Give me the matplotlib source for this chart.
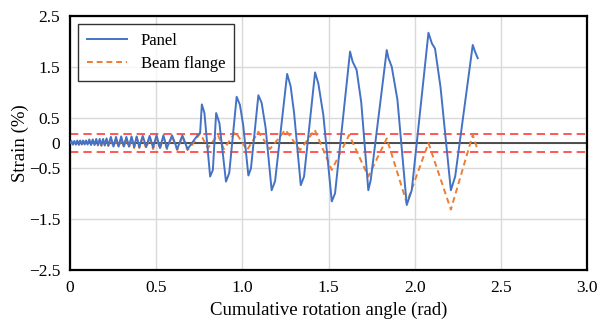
import numpy as np
import matplotlib.pyplot as plt

plt.rcParams['font.family'] = ['Liberation Serif', 'DejaVu Serif']

# small elastic cycles (shared x for both gauges)
x_small = [0, 0.008, 0.017, 0.025, 0.034, 0.042, 0.051, 0.059, 0.068, 0.076, 0.085, 0.093, 0.102,
           0.112, 0.122, 0.132, 0.142, 0.152, 0.162, 0.172, 0.182, 0.192, 0.202, 0.212, 0.222,
           0.237, 0.252, 0.267, 0.282, 0.297, 0.312, 0.327, 0.342, 0.357, 0.372, 0.387, 0.402,
           0.422, 0.442, 0.462, 0.482, 0.502, 0.522, 0.542, 0.562,
           0.592, 0.622, 0.652, 0.682, 0.712, 0.740]
panel_small = [0, 0.04, -0.03, 0.04, -0.03, 0.05, -0.03, 0.05, -0.03, 0.05, -0.03, 0.05, -0.03,
               0.07, -0.04, 0.07, -0.04, 0.08, -0.04, 0.08, -0.04, 0.08, -0.05, 0.09, -0.05,
               0.12, -0.07, 0.12, -0.07, 0.13, -0.07, 0.12, -0.07, 0.13, -0.08, 0.13, -0.08,
               0.14, -0.08, 0.14, -0.09, 0.15, -0.10, 0.15, -0.10,
               0.15, -0.12, 0.15, -0.12, 0.02, 0.15]
flange_small = [0, 0.03, -0.03, 0.03, -0.03, 0.04, -0.04, 0.04, -0.04, 0.04, -0.04, 0.04, -0.04,
                0.05, -0.05, 0.05, -0.05, 0.06, -0.05, 0.06, -0.06, 0.06, -0.06, 0.07, -0.06,
                0.09, -0.08, 0.09, -0.09, 0.10, -0.09, 0.10, -0.10, 0.10, -0.10, 0.11, -0.10,
                0.11, -0.11, 0.12, -0.12, 0.12, -0.12, 0.12, -0.12,
                0.13, -0.14, 0.13, -0.14, -0.02, 0.12]

# large cycles
x_panel = [0.755, 0.765, 0.78, 0.813, 0.829, 0.848, 0.867, 0.905, 0.924, 0.967, 0.986, 1.005,
           1.035, 1.05, 1.093, 1.112, 1.135, 1.17, 1.19, 1.26, 1.28, 1.30, 1.339, 1.358,
           1.422, 1.441, 1.47, 1.519, 1.538, 1.625, 1.64, 1.663, 1.69, 1.731, 1.745,
           1.838, 1.848, 1.867, 1.90, 1.954, 1.983, 2.08, 2.10, 2.118, 2.15, 2.21, 2.235,
           2.337, 2.35, 2.366]
panel = [0.20, 0.76, 0.59, -0.66, -0.53, 0.59, 0.39, -0.76, -0.59, 0.91, 0.75, 0.35,
         -0.64, -0.50, 0.94, 0.79, 0.30, -0.93, -0.75, 1.36, 1.12, 0.60, -0.83, -0.66,
         1.39, 1.17, 0.55, -1.15, -0.99, 1.80, 1.60, 1.44, 0.80, -0.93, -0.73,
         1.83, 1.67, 1.50, 0.85, -1.22, -0.93, 2.17, 1.96, 1.86, 1.10, -0.93, -0.66,
         1.93, 1.80, 1.67]

x_flange = [0.755, 0.80, 0.858, 0.893, 0.96, 1.027, 1.093, 1.16, 1.25, 1.335, 1.42, 1.519,
            1.62, 1.731, 1.838, 1.954, 2.08, 2.21, 2.337, 2.366]
flange = [0.19, -0.10, 0.16, -0.12, 0.22, -0.14, 0.22, -0.12, 0.26, -0.14, 0.26, -0.53,
          0.16, -0.66, 0.09, -1.18, 0.00, -1.31, 0.16, -0.14]

yield_strain = 0.175

fig = plt.figure(figsize=(6.01, 3.30), dpi=100)
ax = fig.add_axes([0.1165, 0.1818, 0.8602, 0.7697])

ax.set_xlim(0, 3.0)
ax.set_ylim(-2.5, 2.5)
ax.set_xticks([0, 0.5, 1.0, 1.5, 2.0, 2.5, 3.0])
ax.set_xticklabels(['0', '0.5', '1.0', '1.5', '2.0', '2.5', '3.0'])
ax.set_yticks([-2.5, -1.5, -0.5, 0, 0.5, 1.5, 2.5])
ax.set_yticklabels(['\u22122.5', '\u22121.5', '\u22120.5', '0', '0.5', '1.5', '2.5'])
ax.grid(True, color='#d9d9d9', lw=1.0)
ax.set_axisbelow(True)
ax.tick_params(length=0, labelsize=12.5, pad=7)

ax.axhline(0, color='#404040', lw=1.3, zorder=1)
ax.axhline(yield_strain, color='#ff3b3b', lw=1.2, ls=(0, (5, 3)), zorder=1)
ax.axhline(-yield_strain, color='#ff3b3b', lw=1.2, ls=(0, (5, 3)), zorder=1)

ax.plot(x_small + x_flange, flange_small + flange, color='#ed7d31', lw=1.4,
        ls=(0, (3, 2)), zorder=2)
ax.plot(x_small + x_panel, panel_small + panel, color='#4472c4', lw=1.4, zorder=3,
        label='Panel')
ax.plot([], [], color='#ed7d31', lw=1.4, ls=(0, (3, 2)), label='Beam flange')

h, l = ax.get_legend_handles_labels()
leg = ax.legend(h, l, loc='upper left', bbox_to_anchor=(0.0155, 0.968), fontsize=12,
                frameon=True, fancybox=False, edgecolor='black', handlelength=2.4,
                borderpad=0.55, labelspacing=0.4, borderaxespad=0, handletextpad=0.8)
leg.get_frame().set_linewidth(1.0)

for s in ax.spines.values():
    s.set_color('black')
    s.set_linewidth(1.6)

ax.set_xlabel('Cumulative rotation angle (rad)', fontsize=13.5, labelpad=4)
ax.set_ylabel('Strain (%)', fontsize=13.5, labelpad=0)

fig.savefig('out.png', dpi=100)
